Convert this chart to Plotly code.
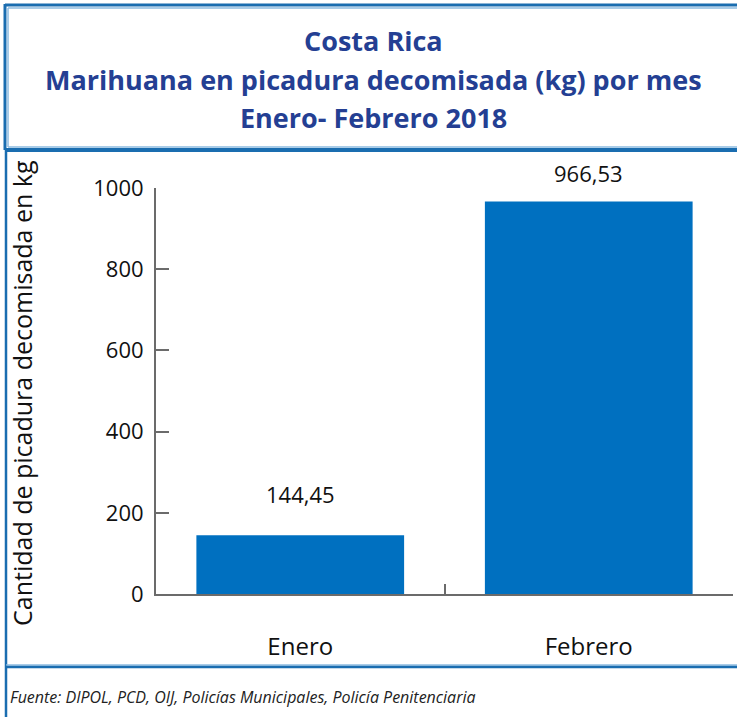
import plotly.graph_objects as go

W, H = 737, 717

meses = ['Enero', 'Febrero']
kg_decomisados = [144.45, 966.53]
y_ticks = [0, 200, 400, 600, 800, 1000]

titulo = ['Costa Rica',
          'Marihuana en picadura decomisada (kg) por mes',
          'Enero- Febrero 2018']
eje_y = 'Cantidad de picadura decomisada en kg'
fuente = 'Fuente: DIPOL, PCD, OIJ, Policías Municipales, Policía Penitenciaria'

BAR = '#0070c0'
BORDER = '#1a6db0'
BORDER_LIGHT = '#8dbbe0'
TITLE = '#243f93'
AXIS = '#6b6b6b'
FONT = 'Open Sans, sans-serif'


def px(x):
    return x / W


def py(y):
    return 1 - y / H


fig = go.Figure()
fig.add_trace(go.Bar(
    x=meses,
    y=kg_decomisados,
    marker=dict(color=BAR, line=dict(width=0)),
    width=0.72,
    hoverinfo='skip'
))

annotations = []
for i, line in enumerate(titulo):
    annotations.append(dict(
        xref='paper', yref='paper', x=px(373), y=py(40 + i * 39),
        text='<b>%s</b>' % line, showarrow=False,
        xanchor='center', yanchor='middle',
        font=dict(family=FONT, size=27, color=TITLE)
    ))

# etiquetas de valores
label_shift = [41, 29]
for m, v, s in zip(meses, kg_decomisados, label_shift):
    annotations.append(dict(
        xref='x', yref='y', x=m, y=v,
        text=('%.2f' % v).replace('.', ','), showarrow=False,
        yshift=s, yanchor='middle',
        font=dict(family=FONT, size=22, color='#111111')
    ))

annotations.append(dict(
    xref='paper', yref='paper', x=px(22), y=py(393),
    text=eje_y, textangle=-90, showarrow=False,
    xanchor='center', yanchor='middle',
    font=dict(family=FONT, size=25, color='#111111')
))
annotations.append(dict(
    xref='paper', yref='paper', x=px(8), y=py(697),
    text='<i>%s</i>' % fuente, showarrow=False,
    xanchor='left', yanchor='middle',
    font=dict(family=FONT, size=16, color='#222222')
))

shapes = [
    # marco del titulo
    dict(type='line', xref='paper', yref='paper', x0=px(5), x1=px(740), y0=py(5), y1=py(5),
         line=dict(color=BORDER, width=3)),
    dict(type='line', xref='paper', yref='paper', x0=px(8), x1=px(740), y0=py(8), y1=py(8),
         line=dict(color=BORDER_LIGHT, width=1.5)),
    dict(type='line', xref='paper', yref='paper', x0=px(5), x1=px(5), y0=py(4), y1=py(150),
         line=dict(color=BORDER, width=3)),
    dict(type='line', xref='paper', yref='paper', x0=px(8), x1=px(8), y0=py(8), y1=py(147),
         line=dict(color=BORDER_LIGHT, width=1.5)),
    dict(type='line', xref='paper', yref='paper', x0=px(8), x1=px(740), y0=py(147), y1=py(147),
         line=dict(color=BORDER_LIGHT, width=1.5)),
    dict(type='line', xref='paper', yref='paper', x0=px(5), x1=px(740), y0=py(150), y1=py(150),
         line=dict(color=BORDER, width=4)),
    # panel del grafico y pie
    dict(type='line', xref='paper', yref='paper', x0=px(6), x1=px(6), y0=py(150), y1=py(720),
         line=dict(color=BORDER, width=2.5)),
    dict(type='line', xref='paper', yref='paper', x0=px(6), x1=px(740), y0=py(665), y1=py(665),
         line=dict(color=BORDER_LIGHT, width=1.5)),
    dict(type='line', xref='paper', yref='paper', x0=px(6), x1=px(740), y0=py(667), y1=py(667),
         line=dict(color=BORDER, width=2.5)),
]

fig.update_layout(
    width=W, height=H,
    margin=dict(l=0, r=0, t=0, b=0),
    paper_bgcolor='#ffffff',
    plot_bgcolor='#ffffff',
    showlegend=False,
    font=dict(family=FONT, size=22, color='#111111'),
    separators=',.',
    annotations=annotations,
    shapes=shapes,
    xaxis=dict(
        domain=[px(156), px(733)],
        showline=True, linecolor=AXIS, linewidth=2,
        ticks='inside', tickson='boundaries', ticklen=10, tickwidth=2, tickcolor=AXIS,
        showgrid=False, zeroline=False,
        tickfont=dict(family=FONT, size=24, color='#111111'),
        ticklabelstandoff=30,
        automargin=False, fixedrange=True
    ),
    yaxis=dict(
        domain=[py(594), py(188)],
        range=[0, 1000],
        tickvals=y_ticks,
        showline=True, linecolor=AXIS, linewidth=2,
        ticks='inside', ticklen=13, tickwidth=1.5, tickcolor=AXIS,
        showgrid=False, zeroline=False,
        tickfont=dict(family=FONT, size=22, color='#111111'),
        ticklabelstandoff=6,
        automargin=False, fixedrange=True
    ),
)

# quitar el margen por defecto del body para que la figura ocupe la ventana
fig.write_html("out.html", config={'displayModeBar': False},
               post_script="document.body.style.margin='0';")
